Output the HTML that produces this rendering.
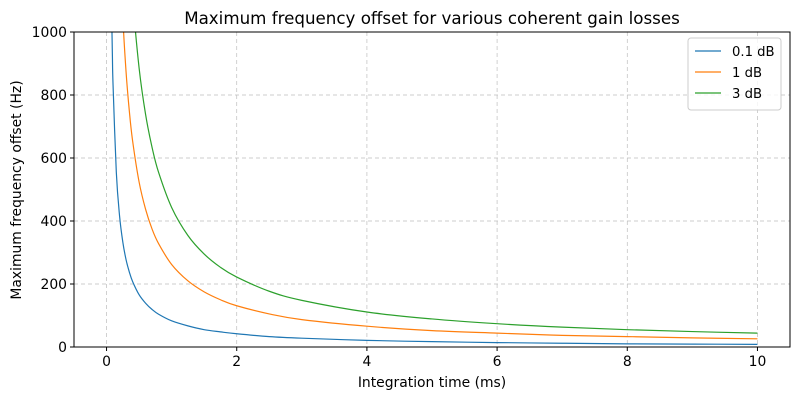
<!DOCTYPE html>
<html><head><meta charset="utf-8"><style>
body{margin:0;background:#fff;font-family:"Liberation Sans","DejaVu Sans",sans-serif;}
svg text{font-family:"DejaVu Sans","Liberation Sans",sans-serif;}
</style></head><body>
<svg id="chart" width="800" height="400" xmlns="http://www.w3.org/2000/svg">
<defs><clipPath id="clip"><rect x="74" y="32" width="716" height="315"/></clipPath></defs>
<rect x="0" y="0" width="800" height="400" fill="#fff"/>
<g id="grid"></g>
<g id="lines" clip-path="url(#clip)"></g>
<rect x="74" y="32" width="716" height="315" fill="none" stroke="#000" stroke-width="1"/>
<g id="ticks"></g>
<text x="432" y="24" font-size="16.7" text-anchor="middle">Maximum frequency offset for various coherent gain losses</text>
<text x="432" y="387" font-size="13.9" text-anchor="middle">Integration time (ms)</text>
<text transform="translate(21,190) rotate(-90)" font-size="13.9" text-anchor="middle">Maximum frequency offset (Hz)</text>
<g id="legend">
<rect x="688" y="38" width="93" height="72" rx="3" fill="#fff" fill-opacity="0.8" stroke="#ccc"/>
</g>
</svg>
<script>
const times=[0.05,0.06,0.07,0.08,0.09,0.1,0.15,0.2,0.25,0.3,0.35,0.4,0.5,0.6,0.7,0.8,1,1.25,1.5,1.75,2,2.5,3,4,5,6,7,8,9,10];
const loss01=[1664,1387,1189,1040,924,832,555,416,333,277,238,208,166,139,119,104,83,67,55,48,42,33,28,21,17,14,12,10,9.2,8.3];
const loss1=[5240,4367,3743,3275,2911,2620,1747,1310,1048,873,749,655,524,437,374,328,262,210,175,150,131,105,87,66,52,44,37,33,29,26];
const loss3=[8860,7383,6329,5538,4922,4430,2953,2215,1772,1477,1266,1108,886,738,633,554,443,354,295,253,222,177,148,111,89,74,63,55,49,44];
const seriesNames=["0.1 dB","1 dB","3 dB"];
const xTicks=[0,2,4,6,8,10];
const yTicks=[0,200,400,600,800,1000];
const NS="http://www.w3.org/2000/svg";
const X=v=>74+(v+0.5)*(716/11);
const Y=v=>347-v*0.315;
function mk(tag,attrs,parent){const e=document.createElementNS(NS,tag);for(const k in attrs)e.setAttribute(k,attrs[k]);parent.appendChild(e);return e;}
const grid=document.getElementById('grid'),ticks=document.getElementById('ticks');
xTicks.forEach(t=>{
 const g=mk('line',{x1:X(t),x2:X(t),y1:32,y2:347,stroke:'#bdbdbd','stroke-dasharray':'4,3','stroke-width':0.7},grid);
 
 
 const tk=mk('line',{x1:X(t),x2:X(t),y1:347,y2:351,stroke:'#000'},ticks);
 
 
 const tx=mk('text',{x:X(t),y:366,'font-size':13.9,'text-anchor':'middle'},ticks);tx.textContent=t;
 
 
});
yTicks.forEach(t=>{
 const g=mk('line',{x1:74,x2:790,y1:Y(t),y2:Y(t),stroke:'#bdbdbd','stroke-dasharray':'4,3','stroke-width':0.7},grid);
 
 
 const tk=mk('line',{x1:70,x2:74,y1:Y(t),y2:Y(t),stroke:'#000'},ticks);
 
 
 const tx=mk('text',{x:67,y:Y(t)+5,'font-size':13.9,'text-anchor':'end'},ticks);tx.textContent=t;
 
 
});
function smooth(p){
 let d='M'+p[0][0]+','+p[0][1];
 for(let i=0;i<p.length-1;i++){
  const p0=p[i-1]||p[i],p1=p[i],p2=p[i+1],p3=p[i+2]||p2;
  const c1=[p1[0]+(p2[0]-p0[0])/6,p1[1]+(p2[1]-p0[1])/6];
  const c2=[p2[0]-(p3[0]-p1[0])/6,p2[1]-(p3[1]-p1[1])/6];
  d+=' C'+c1[0].toFixed(2)+','+c1[1].toFixed(2)+' '+c2[0].toFixed(2)+','+c2[1].toFixed(2)+' '+p2[0].toFixed(2)+','+p2[1].toFixed(2);
 }
 return d;
}
const colors=['#1f77b4','#ff7f0e','#2ca02c'];
const lines=document.getElementById('lines'),legend=document.getElementById('legend');
[loss01,loss1,loss3].forEach((s,i)=>{
 const pts=times.map((t,j)=>[X(t),Y(s[j])]);
 const p=mk('path',{d:smooth(pts),fill:'none',stroke:colors[i],'stroke-width':1.2},lines);
 
 
 const ly=51+i*21;
 const ll=mk('line',{x1:695,x2:721,y1:ly,y2:ly,stroke:colors[i],'stroke-width':1.2},legend);
 
 
 const lt=mk('text',{x:732,y:ly+5,'font-size':13.2},legend);lt.textContent=seriesNames[i];
 
 
});
</script>
</body></html>
